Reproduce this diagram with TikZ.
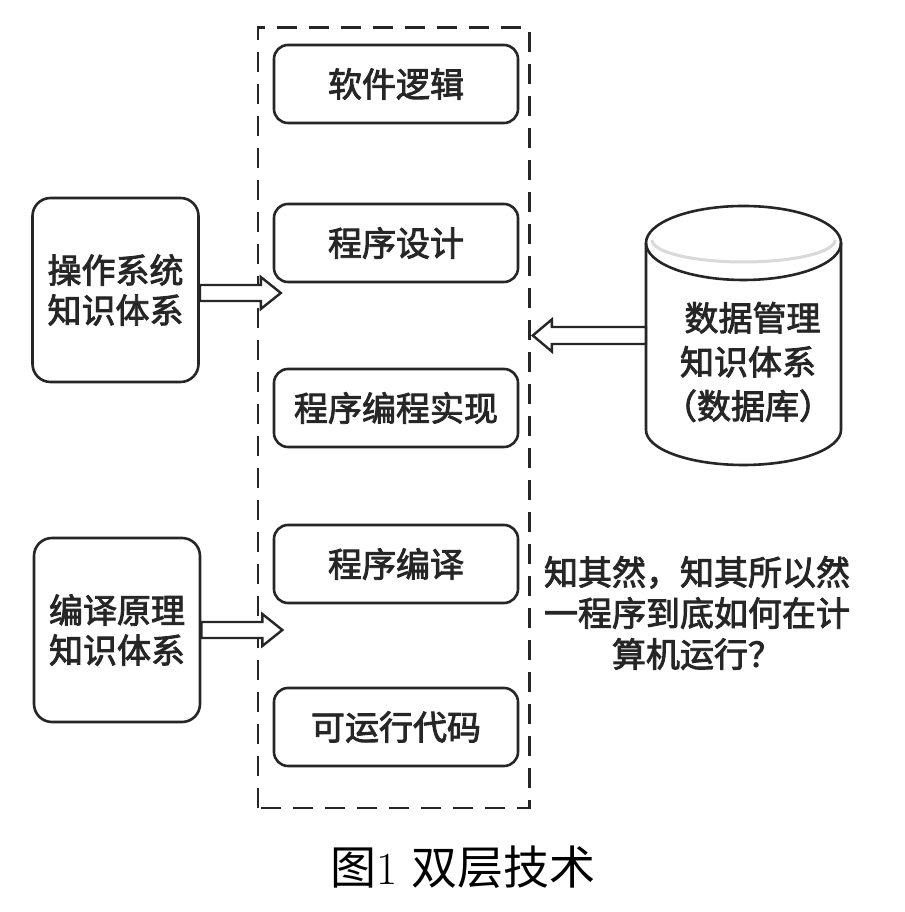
\documentclass[tikz,border=0pt]{standalone}
\usepackage{fontspec}
\usepackage{tikz}
\usepackage{xcolor}
\newfontfamily\cjk{Noto Sans CJK SC}[FakeBold=2.5]
\newfontfamily\cjkcap{Noto Sans CJK SC}

\begin{document}
\begin{tikzpicture}
[
  x=1pt, y=1pt,
	ink/.style={black!85},
	layer/.style={draw=black!85,rounded corners=14pt,line width=2.6pt,minimum width=244pt,minimum height=78pt,text=black!85,font=\cjk\fontsize{34}{40}\selectfont},
	know/.style={draw=black!85,rounded corners=18pt,line width=2.6pt,minimum width=166pt,minimum height=184pt,align=center,text=black!85,font=\cjk\fontsize{34}{40}\selectfont},
	frame/.style={draw=black!85,line width=2.6pt,dash pattern=on 20pt off 12pt},
	hollow/.style={draw=black!85,fill=white,line width=2.4pt,line join=miter},
	note/.style={align=center,text=black!85,font=\cjk\fontsize{34}{41}\selectfont}
]

\useasboundingbox (0,0) rectangle (904,912);
\fill[white] (0,0) rectangle (904,912);

\node[minimum width=271pt,minimum height=780pt] (stack) at (393.5,494) {};
\draw[frame] (stack.south west) rectangle (stack.north east);

\node[layer] (logic) at (396,828) {软件逻辑};
\node[layer] (design) at (396,669) {程序设计};
\node[layer] (impl) at (396,504) {程序编程实现};
\node[layer] (comp) at (396,348) {程序编译};
\node[layer] (exe) at (396,185) {可运行代码};

\node[know] (os) at (115.5,622) {操作系统\\知识体系};
\node[know] (cp) at (117,282) {编译原理\\知识体系};

% database cylinder
\node[minimum width=195pt,minimum height=259pt] (db) at (743.5,576.5) {};
\draw[gray!30,line width=3pt] (652,672) arc[start angle=180,end angle=360,x radius=91.5,y radius=22];
\draw[ink,line width=2.6pt] (646,669) -- (646,482) arc[start angle=180,end angle=360,x radius=97.5,y radius=35] -- (841,669);
\draw[ink,line width=2.6pt] (743.5,669) ellipse [x radius=97.5,y radius=37];
\node[note,font=\cjk\fontsize{34}{44}\selectfont] (dbtext) at (748,550) {\hspace{9pt}数据管理\\知识体系\\（数据库）};

\draw[hollow] ([yshift=-3pt]os.east) ++(0,8) -- ++(61,0) -- ++(0,8) -- ++(20,-16) -- ++(-20,-16) -- ++(0,8) -- ++(-61,0) -- cycle;
\draw[hollow] (cp.east) ++(0,8) -- ++(61,0) -- ++(0,8) -- ++(20,-16) -- ++(-20,-16) -- ++(0,8) -- ++(-61,0) -- cycle;
\draw[hollow] (db.west) ++(0,8.5) -- ++(-94,0) -- ++(0,7.5) -- ++(-19,-16) -- ++(19,-16) -- ++(0,7.5) -- ++(94,0) -- cycle;

\node[note] (why) at (697,299) {知其然，知其所以然\\一程序到底如何在计\\算机运行？};

\node[text=black,font=\fontsize{46}{50}\selectfont] (caption) at (463,45) {{\cjkcap 图}1\ {\cjkcap 双层技术}};
\end{tikzpicture}
\end{document}
